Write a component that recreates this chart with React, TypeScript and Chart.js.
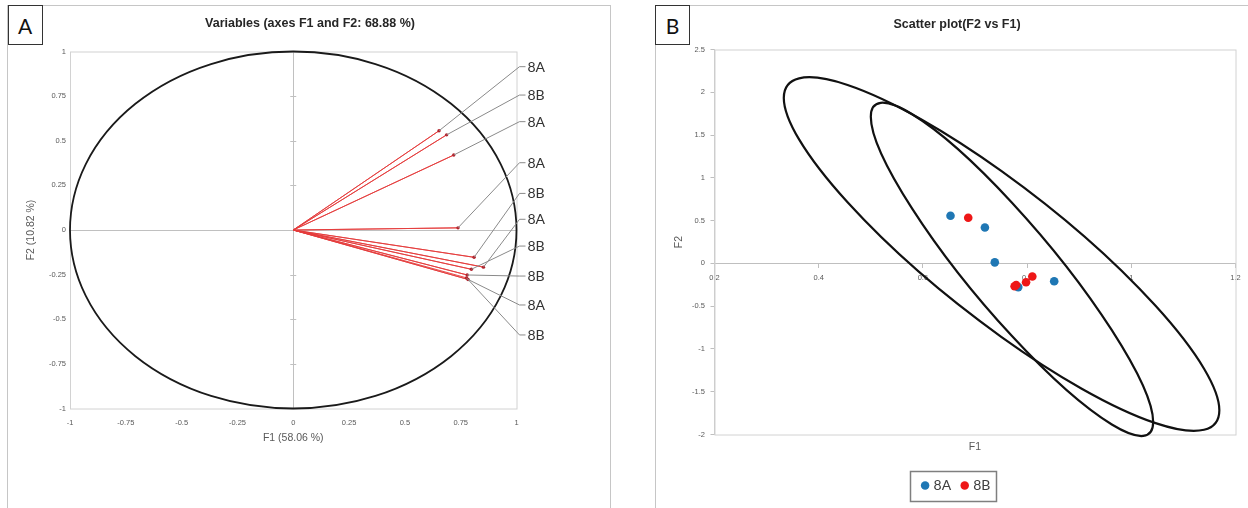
import React, { useEffect, useRef } from "react";
import { Chart, registerables } from "chart.js";

Chart.register(...registerables);

// ---------------- data ----------------
// variables (F1, F2 coordinates), listed in callout order top->bottom
const varLabels = ["8A", "8B", "8A", "8A", "8B", "8A", "8B", "8B", "8A", "8B"];
const f1Values = [0.653, 0.687, 0.719, 0.738, 0.81, 0.852, 0.798, 0.779, 0.783, 0.776];
const f2Values = [0.556, 0.533, 0.42, 0.012, -0.153, -0.208, -0.22, -0.252, -0.277, -0.268];
// F2 position of each callout label in panel A
const calloutF2 = [0.915, 0.756, 0.607, 0.377, 0.205, 0.06, -0.09, -0.258, -0.42, -0.588];

const circleAxisTicks = [-1, -0.75, -0.5, -0.25, 0, 0.25, 0.5, 0.75, 1];
const scatterF1Ticks = [0.2, 0.4, 0.6, 0.8, 1, 1.2];
const scatterF2Ticks = [-2, -1.5, -1, -0.5, 0, 0.5, 1, 1.5, 2, 2.5];

const groups = ["8A", "8B"];
const groupColors = ["#1f77b4", "#ee1717"];

// confidence ellipses (8A, 8B):
// centre, leftmost point, and vertical half-chord through the centre
const ellipseCentreF1 = [0.751, 0.771];
const ellipseCentreF2 = [0.109, -0.07];
const ellipseLeftF1 = [0.333, 0.5];
const ellipseLeftF2 = [1.934, 1.715];
const ellipseHalfChordF2 = [0.97, 0.78];

// ---------------- styles ----------------
const SANS = "'Liberation Sans', Arial, sans-serif";
const tickFont = { family: SANS, size: 7.5 };
const titleFont = { family: SANS, size: 12.5, weight: "bold" as const, lineHeight: 1.2 };
const axisTitleFont = { family: SANS, size: 10.5, lineHeight: 1.2 };
const tickColor = "#595959";
const fmt = (v: any) => String(Math.round(Number(v) * 100) / 100);
const zeroLine = (c: any) => (c.tick && c.tick.value === 0 ? "#c0c0c0" : "rgba(0,0,0,0)");

// ---------------- panel A ----------------
const panelAPlugin = {
  id: "panelA",
  beforeDatasetsDraw(chart: any) {
    const { ctx, chartArea: ca, scales } = chart;
    const x = scales.x, y = scales.y;
    ctx.save();
    ctx.strokeStyle = "#d2d2d2";
    ctx.lineWidth = 1;
    ctx.strokeRect(ca.left + 0.5, ca.top + 0.5, ca.right - ca.left, ca.bottom - ca.top);
    const x0 = x.getPixelForValue(0);
    const y0 = y.getPixelForValue(0);
    ctx.strokeStyle = "#c0c0c0";
    circleAxisTicks.forEach((v) => {
      if (v === 0 || Math.abs(v) === 1) return;
      const py = Math.round(y.getPixelForValue(v)) + 0.5;
      ctx.beginPath();
      ctx.moveTo(x0 - 3, py);
      ctx.lineTo(x0 + 3, py);
      ctx.stroke();
    });
    // unit correlation circle
    const rx = x.getPixelForValue(1) - x0;
    const ry = y0 - y.getPixelForValue(1);
    ctx.strokeStyle = "#1a1a1a";
    ctx.lineWidth = 1.8;
    ctx.beginPath();
    ctx.ellipse(x0, y0, rx, ry, 0, 0, Math.PI * 2);
    ctx.stroke();
    ctx.restore();
  },
  afterDatasetsDraw(chart: any) {
    const { ctx, scales } = chart;
    const x = scales.x, y = scales.y;
    const xr = x.getPixelForValue(1);
    ctx.save();
    ctx.strokeStyle = "#8a8a8a";
    ctx.lineWidth = 1;
    ctx.fillStyle = "#333333";
    ctx.font = "14px Lato, 'Open Sans', sans-serif";
    ctx.textAlign = "left";
    ctx.textBaseline = "middle";
    varLabels.forEach((lab, i) => {
      const px = x.getPixelForValue(f1Values[i]);
      const py = y.getPixelForValue(f2Values[i]);
      const ly = y.getPixelForValue(calloutF2[i]);
      ctx.beginPath();
      ctx.moveTo(px, py);
      ctx.lineTo(xr + 3, ly);
      ctx.lineTo(xr + 9, ly);
      ctx.stroke();
      ctx.fillText(lab, xr + 11, ly + 0.5);
    });
    ctx.restore();
  },
};

function PanelA() {
  const ref = useRef<HTMLCanvasElement>(null);
  useEffect(() => {
    const vecData: { x: number; y: number }[] = [];
    f1Values.forEach((v, i) => {
      vecData.push({ x: 0, y: 0 });
      vecData.push({ x: v, y: f2Values[i] });
    });
    const chart = new Chart(ref.current as HTMLCanvasElement, {
      type: "scatter",
      data: {
        datasets: [
          {
            label: "vectors",
            data: vecData,
            xAxisID: "x",
            yAxisID: "y",
            showLine: true,
            borderColor: "rgba(228,60,60,0.9)",
            borderWidth: 1,
            pointRadius: (c: any) => (c.dataIndex % 2 === 1 ? 1.7 : 0),
            pointBackgroundColor: "#b3202a",
            pointBorderWidth: 0,
          } as any,
        ],
      },
      options: {
        responsive: false,
        animation: false,
        events: [],
        layout: { padding: { left: 0, right: 0, top: 0, bottom: 59.5 } },
        plugins: {
          legend: { display: false },
          tooltip: { enabled: false },
          title: {
            display: true,
            text: "Variables (axes F1 and F2: 68.88 %)",
            color: "#262626",
            font: titleFont,
            padding: { top: 15.8, bottom: 20.7 },
          },
        },
        scales: {
          x: {
            type: "linear",
            min: -1,
            max: 1,
            afterBuildTicks: (s: any) => {
              s.ticks = circleAxisTicks.map((v) => ({ value: v }));
            },
            afterFit: (s: any) => {
              s.height = 40;
            },
            ticks: { font: tickFont, color: tickColor, padding: 10, callback: fmt, autoSkip: false, maxRotation: 0 },
            grid: { color: zeroLine, drawTicks: false, lineWidth: 1 },
            border: { display: false },
            title: { display: true, text: "F1 (58.06 %)", font: axisTitleFont, color: tickColor, padding: { top: 0, bottom: 4.2 } },
          },
          y: {
            type: "linear",
            position: "left",
            min: -1,
            max: 1,
            afterBuildTicks: (s: any) => {
              s.ticks = circleAxisTicks.map((v) => ({ value: v }));
            },
            afterFit: (s: any) => {
              s.width = 70;
            },
            ticks: { font: tickFont, color: tickColor, padding: 4, callback: fmt, autoSkip: false },
            grid: { color: zeroLine, drawTicks: false, lineWidth: 1 },
            border: { display: false },
            title: { display: true, text: "F2 (10.82 %)", font: axisTitleFont, color: tickColor, padding: { top: 24.7, bottom: 0 } },
          },
          y2: {
            type: "linear",
            position: "right",
            afterFit: (s: any) => {
              s.width = 103.5;
            },
            ticks: { display: false },
            grid: { display: false },
            border: { display: false },
          },
        },
      } as any,
      plugins: [panelAPlugin],
    });
    return () => chart.destroy();
  }, []);
  return (
    <canvas
      ref={ref}
      width={620}
      height={508}
      style={{ position: "absolute", left: 0, top: 0, width: 620, height: 508 }}
    />
  );
}

// ---------------- panel B ----------------
const panelBPlugin = {
  id: "panelB",
  beforeDatasetsDraw(chart: any) {
    const { ctx, chartArea: ca, scales } = chart;
    const x = scales.x, y = scales.y;
    ctx.save();
    ctx.strokeStyle = "#d2d2d2";
    ctx.lineWidth = 1;
    ctx.strokeRect(ca.left + 0.5, ca.top + 0.5, ca.right - ca.left, ca.bottom - ca.top);
    // confidence ellipses, mapped through the scales
    ctx.strokeStyle = "#111111";
    ctx.lineWidth = 2.2;
    ellipseCentreF1.forEach((cf1, i) => {
      const cx = x.getPixelForValue(cf1);
      const cy = y.getPixelForValue(ellipseCentreF2[i]);
      const ux = x.getPixelForValue(ellipseLeftF1[i]) - cx;
      const uy = y.getPixelForValue(ellipseLeftF2[i]) - cy;
      const vy = y.getPixelForValue(ellipseCentreF2[i] - ellipseHalfChordF2[i]) - cy;
      ctx.save();
      ctx.beginPath();
      ctx.transform(ux, uy, 0, vy, cx, cy);
      ctx.arc(0, 0, 1, 0, Math.PI * 2);
      ctx.closePath();
      ctx.restore();
      ctx.stroke();
    });
    ctx.restore();
  },
  afterDraw(chart: any) {
    const lg = chart.legend;
    if (!lg || !lg.legendHitBoxes || !lg.legendHitBoxes.length) return;
    const hb = lg.legendHitBoxes;
    const l = Math.min(...hb.map((h: any) => h.left));
    const r = Math.max(...hb.map((h: any) => h.left + h.width));
    const cy = hb[0].top + hb[0].height / 2;
    const { ctx } = chart;
    ctx.save();
    ctx.strokeStyle = "#7f7f7f";
    ctx.lineWidth = 1.5;
    ctx.strokeRect(Math.round(l - 14) + 0.5, Math.round(cy - 15) + 0.5, Math.round(r - l + 19), 30);
    ctx.restore();
  },
};

function PanelB() {
  const ref = useRef<HTMLCanvasElement>(null);
  useEffect(() => {
    const groupData = groups.map((g) =>
      f1Values
        .map((v, i) => ({ x: v, y: f2Values[i], g: varLabels[i] }))
        .filter((p) => p.g === g)
        .map((p) => ({ x: p.x, y: p.y }))
    );
    const chart = new Chart(ref.current as HTMLCanvasElement, {
      type: "scatter",
      data: {
        datasets: groups.map((g, gi) => ({
          label: g,
          data: groupData[gi],
          xAxisID: "x",
          yAxisID: "y",
          backgroundColor: groupColors[gi],
          borderColor: groupColors[gi],
          pointBackgroundColor: groupColors[gi],
          pointBorderColor: groupColors[gi],
          pointRadius: 4.3,
          pointBorderWidth: 0,
          order: gi === 0 ? 2 : 1,
        })) as any,
      },
      options: {
        responsive: false,
        animation: false,
        events: [],
        layout: { padding: { left: 30, right: 4, top: 0, bottom: 5.5 } },
        plugins: {
          tooltip: { enabled: false },
          title: {
            display: true,
            text: "Scatter plot(F2 vs F1)",
            color: "#262626",
            font: titleFont,
            padding: { top: 17.5, bottom: 17 },
          },
          legend: {
            display: true,
            position: "bottom",
            labels: {
              usePointStyle: true,
              pointStyle: "circle",
              boxWidth: 3,
              boxHeight: 6,
              padding: 12,
              color: "#404040",
              font: { family: "Lato, 'Open Sans', sans-serif", size: 14 },
              sort: (a: any, b: any) => a.datasetIndex - b.datasetIndex,
            },
          },
        },
        scales: {
          x: {
            type: "linear",
            min: 0.2,
            max: 1.2,
            position: { y: 0 },
            afterBuildTicks: (s: any) => {
              s.ticks = scatterF1Ticks.map((v) => ({ value: v }));
            },
            ticks: { font: tickFont, color: tickColor, padding: 6.5, callback: fmt, autoSkip: false, maxRotation: 0 },
            grid: { drawOnChartArea: false, drawTicks: true, tickLength: 4, tickColor: "#bfbfbf" },
            border: { display: true, color: "#bfbfbf", width: 1 },
          },
          x2: {
            type: "linear",
            position: "bottom",
            min: 0.2,
            max: 1.2,
            afterFit: (s: any) => {
              s.height = 32;
            },
            ticks: { display: false },
            grid: { display: false },
            border: { display: false },
            title: { display: true, text: "F1", font: axisTitleFont, color: tickColor, padding: { top: 0, bottom: 13.2 } },
          },
          y: {
            type: "linear",
            position: "left",
            min: -2,
            max: 2.5,
            afterBuildTicks: (s: any) => {
              s.ticks = scatterF2Ticks.map((v) => ({ value: v }));
            },
            afterFit: (s: any) => {
              s.width = 44.5;
            },
            ticks: { font: tickFont, color: tickColor, padding: 5.5, callback: fmt, autoSkip: false },
            grid: { drawOnChartArea: false, drawTicks: true, tickLength: 4, tickColor: "#bfbfbf" },
            border: { display: true, color: "#c8c8c8", width: 1 },
            title: { display: true, text: "F2", font: axisTitleFont, color: tickColor, padding: { top: 2.7, bottom: 0 } },
          },
          y2: {
            type: "linear",
            position: "right",
            afterFit: (s: any) => {
              s.width = 8.5;
            },
            ticks: { display: false },
            grid: { display: false },
            border: { display: false },
          },
        },
      } as any,
      plugins: [panelBPlugin],
    });
    return () => chart.destroy();
  }, []);
  return (
    <canvas
      ref={ref}
      width={608}
      height={508}
      style={{ position: "absolute", left: 640, top: 0, width: 608, height: 508 }}
    />
  );
}

// ---------------- layout ----------------
const letterBox = (left: number, width: number): React.CSSProperties => ({
  position: "absolute",
  left,
  top: 4.5,
  width,
  height: 40,
  border: "1px solid #333",
  background: "#fff",
  boxSizing: "border-box",
  display: "flex",
  alignItems: "center",
  justifyContent: "center",
  fontFamily: "Lato, 'Open Sans', sans-serif",
  fontSize: 21,
  color: "#111",
  lineHeight: 1,
  paddingTop: 2,
});

export default function App() {
  return (
    <div
      style={{
        position: "fixed",
        left: 0,
        top: 0,
        width: 1248,
        height: 508,
        background: "#fff",
        overflow: "hidden",
      }}
    >
      <div
        style={{
          position: "absolute",
          left: 7,
          top: 4.5,
          width: 604,
          height: 560,
          border: "1.5px solid #c6c6c6",
          boxSizing: "border-box",
        }}
      />
      <div
        style={{
          position: "absolute",
          left: 655,
          top: 4.5,
          width: 640,
          height: 560,
          border: "1.5px solid #c6c6c6",
          boxSizing: "border-box",
        }}
      />
      <PanelA />
      <PanelB />
      <div style={letterBox(7.5, 35)}>A</div>
      <div style={letterBox(655, 35)}>B</div>
    </div>
  );
}
